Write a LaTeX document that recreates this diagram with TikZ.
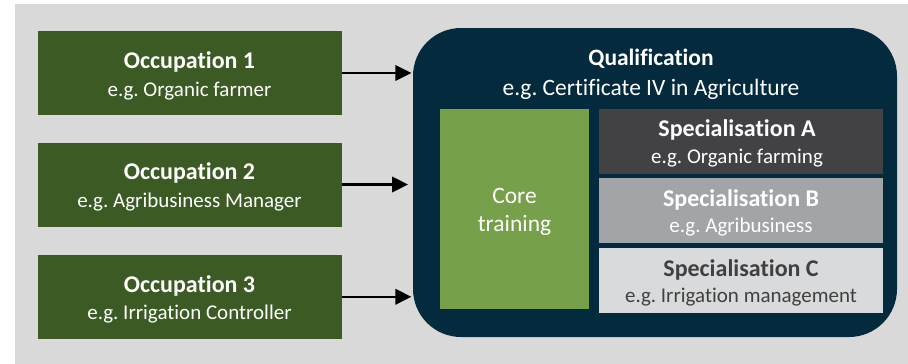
\documentclass[tikz,border=0pt]{standalone}
\usepackage{fontspec}
\setmainfont{Carlito}[Ligatures={NoCommon}]
\usetikzlibrary{arrows.meta}
\frenchspacing
\definecolor{bggray}{HTML}{D9D9D9}
\definecolor{occgreen}{HTML}{3B5A24}
\definecolor{qualnavy}{HTML}{032B3D}
\definecolor{coregreen}{HTML}{77A04A}
\definecolor{specdark}{HTML}{424245}
\definecolor{specmid}{HTML}{A2A5A8}
\definecolor{speclight}{HTML}{D9DADB}
\definecolor{darktxt}{HTML}{404040}

\begin{document}
\begin{tikzpicture}[x=0.75pt,y=-0.75pt,
  occbox/.style={fill=occgreen, minimum width=228pt, minimum height=63pt, inner sep=0},
  qualbox/.style={fill=qualnavy, rounded corners=36pt, minimum width=363pt, minimum height=231.75pt, inner sep=0},
  corebox/.style={fill=coregreen, minimum width=111.75pt, minimum height=150pt, inner sep=0},
  specbox/.style={minimum width=213pt, minimum height=48.5pt, inner sep=0},
  ttl/.style={font=\fontsize{18pt}{20pt}\selectfont\bfseries\frenchspacing, text=white, anchor=base, inner sep=0},
  subtxt/.style={font=\fontsize{15.75pt}{18pt}\selectfont\frenchspacing, text=white, anchor=base, inner sep=0},
  bigttl/.style={font=\fontsize{17.6pt}{20pt}\selectfont\bfseries\frenchspacing, text=white, anchor=base, inner sep=0},
  bigtxt/.style={font=\fontsize{17.6pt}{20pt}\selectfont\frenchspacing, text=white, anchor=base, inner sep=0},
  conn/.style={line width=1.9pt, -{Triangle[length=12pt,width=11.5pt]}, shorten >=1pt}
]
\useasboundingbox (0,0) rectangle (908,364);
\fill[bggray] (15,4) rectangle (908,364);

% occupations
\node[occbox] (occ1) at (189.5,73) {};
\node[occbox] (occ2) at (189.5,184.5) {};
\node[occbox] (occ3) at (189.5,296.8) {};
\node[ttl] (occ1t) at (189.5,68) {Occupation 1};
\node[subtxt] (occ1s) at (189.5,96.3) {e.g. Organic farmer};
\node[ttl] (occ2t) at (189.5,179.5) {Occupation 2};
\node[subtxt] (occ2s) at (189.5,207.5) {e.g. Agribusiness Manager};
\node[ttl] (occ3t) at (189.5,292) {Occupation 3};
\node[subtxt] (occ3s) at (189.5,319.3) {e.g. Irrigation Controller};

% qualification
\node[qualbox] (qual) at (655,182.5) {};
\node[bigttl] (qualt) at (651,65.5) {Qualification};
\node[bigtxt] (quals) at (651,95) {e.g. Certificate IV in Agriculture};

% core training
\node[corebox] (core) at (514.5,209) {};
\node[bigtxt] (coret1) at (514.5,203.7) {Core};
\node[bigtxt] (coret2) at (514.5,231) {training};

% specialisations
\node[specbox, fill=specdark] (specA) at (741,141.3) {};
\node[specbox, fill=specmid] (specB) at (741,210.7) {};
\node[specbox, fill=speclight] (specC) at (741,280.4) {};
\node[ttl] (specAt) at (737,136.8) {Specialisation A};
\node[subtxt] (specAs) at (737,163.3) {e.g. Organic farming};
\node[ttl] (specBt) at (741,206) {Specialisation B};
\node[subtxt] (specBs) at (741,232) {e.g. Agribusiness};
\node[ttl, text=darktxt] (specCt) at (741,276.5) {Specialisation C};
\node[subtxt, text=darktxt] (specCs) at (741,302) {e.g. Irrigation management};

% connectors
\draw[conn] (occ1.east) -- (occ1.east -| qual.west);
\draw[conn] (occ2.east) -- ([xshift=-2.5pt]occ2.east -| qual.west);
\draw[conn] (occ3.east) -- (occ3.east -| qual.west);
\end{tikzpicture}
\end{document}
